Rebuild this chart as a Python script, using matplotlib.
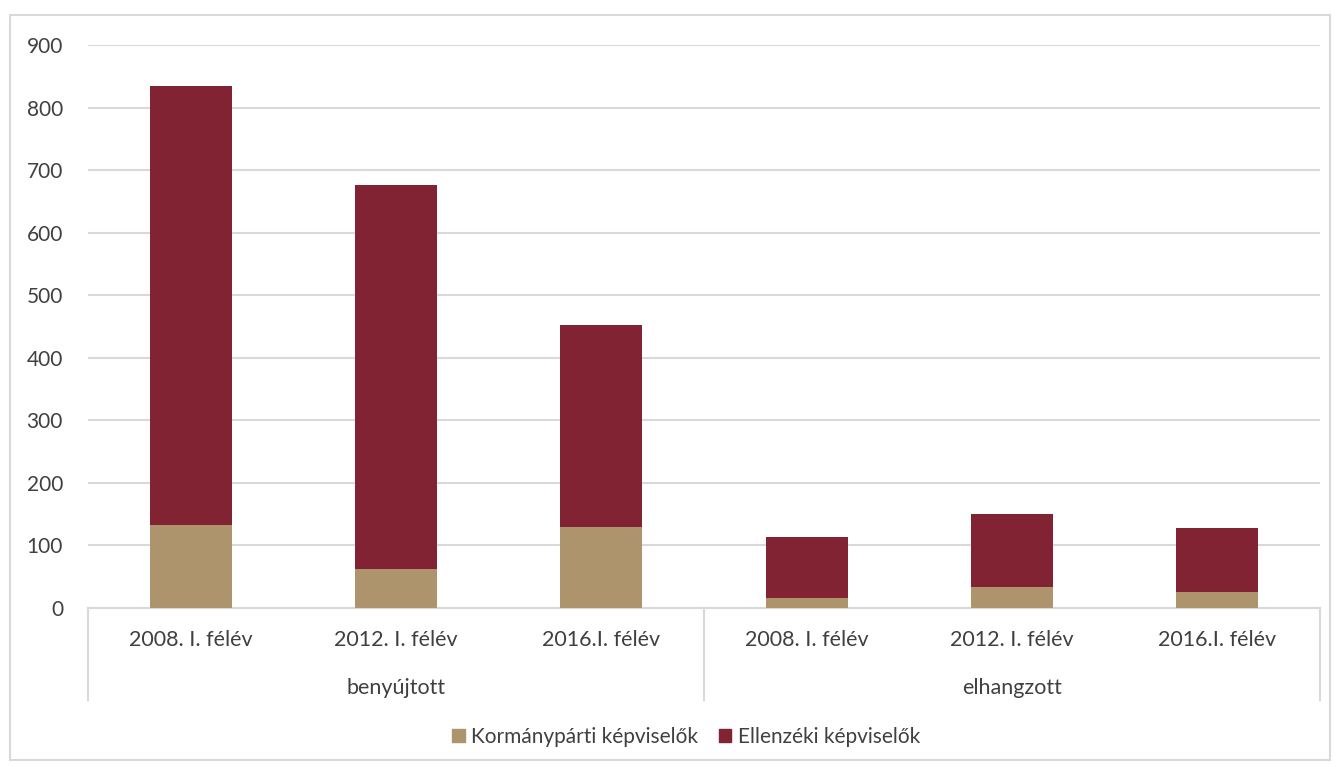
import numpy as np
import matplotlib
matplotlib.use("Agg")
import matplotlib.pyplot as plt
from matplotlib.patches import Patch, Rectangle

# data
periods = ["2008. I. félév", "2012. I. félév", "2016.I. félév",
           "2008. I. félév", "2012. I. félév", "2016.I. félév"]
groups = ["benyújtott", "elhangzott"]
kormanyparti = [133, 62, 130, 16, 34, 26]
ellenzeki = [701, 614, 322, 97, 117, 102]
yticks = [0, 100, 200, 300, 400, 500, 600, 700, 800, 900]

c_gov = "#AD946C"
c_opp = "#822334"
grid_c = "#D9D9D9"
text_c = "#404040"

plt.rcParams['font.family'] = ['Lato', 'DejaVu Sans']

W, H = 1340, 767
fig = plt.figure(figsize=(W / 100, H / 100), dpi=100)
ax_left, ax_right, ax_top, ax_bot = 88, 1320, 45, 608
ax = fig.add_axes([ax_left / W, 1 - ax_bot / H, (ax_right - ax_left) / W, (ax_bot - ax_top) / H])

x = np.arange(len(periods))
ax.bar(x, kormanyparti, width=0.40, color=c_gov, zorder=3)
ax.bar(x, ellenzeki, width=0.40, bottom=kormanyparti, color=c_opp, zorder=3)

ax.set_xlim(-0.5, len(periods) - 0.5)
ax.set_ylim(0, 900)
ax.set_yticks(yticks)
ax.set_yticklabels([str(v) for v in yticks], fontsize=15, color=text_c)
ax.tick_params(axis='y', length=0, pad=18)
ax.set_xticks([])
ax.yaxis.grid(True, color=grid_c, linewidth=1.5, zorder=0)
for s in ["left", "right", "top"]:
    ax.spines[s].set_visible(False)
ax.spines["bottom"].set_color(grid_c)
ax.spines["bottom"].set_linewidth(1.5)

# multi-level category axis
axh = ax_bot - ax_top
trans = ax.get_xaxis_transform()
for xs in [-0.5, 2.5, 5.5]:
    ax.plot([xs, xs], [0, -92 / axh], transform=trans, color=grid_c,
            linewidth=1.5, clip_on=False)
for xi, lab in zip(x, periods):
    ax.text(xi, -32 / axh, lab, transform=trans, ha="center", va="center",
            fontsize=15.5, color=text_c)
for gi, g in enumerate(groups):
    ax.text(1 + 3 * gi, -80 / axh, g, transform=trans, ha="center", va="center",
            fontsize=15.5, color=text_c)

# legend
handles = [Patch(color=c_gov, label="Kormánypárti képviselők"),
           Patch(color=c_opp, label="Ellenzéki képviselők")]
leg = fig.legend(handles=handles, loc="center", bbox_to_anchor=(686 / W, 1 - 737 / H),
                 ncol=2, frameon=False, fontsize=15, handlelength=0.6, handleheight=0.6,
                 handletextpad=0.3, columnspacing=1.0)
for t in leg.get_texts():
    t.set_color(text_c)

# outer chart border
fig.patches.append(Rectangle((10 / W, 1 - 760 / H), 1320 / W, 745 / H,
                             transform=fig.transFigure, fill=False,
                             edgecolor=grid_c, linewidth=1.5))

fig.savefig("out.png", dpi=100)
